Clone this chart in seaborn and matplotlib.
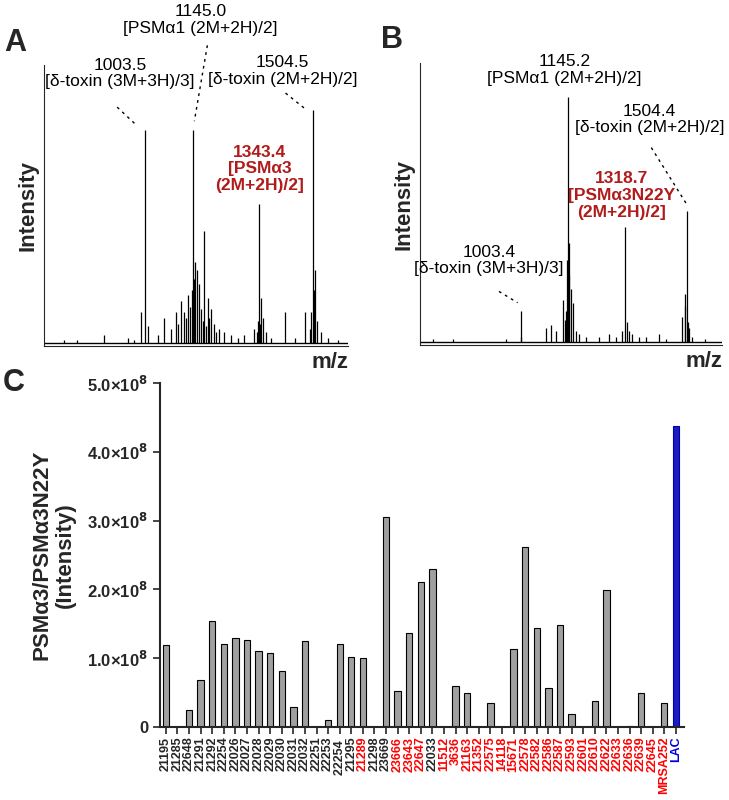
"""Figure: MALDI spectra (A, B) and PSMa3/PSMa3N22Y intensity per strain (C)"""

import matplotlib
matplotlib.use('Agg')
import matplotlib.pyplot as plt
import seaborn as sns
import pandas as pd
from matplotlib.ticker import FuncFormatter

sns.set_style('ticks')
plt.rcParams['font.family'] = ['Liberation Sans', 'DejaVu Sans']

# spectrum A peaks (m/z, relative intensity)
mz_a = [1003.5, 1145.0, 1343.4, 1504.5,
        990, 1010, 1040, 1060, 1080, 1095, 1110, 1120, 1130, 1138, 1152, 1158,
        1165, 1170, 1180, 1190, 1200, 1210, 1225, 1240, 1260, 1280, 1300, 1330,
        1337, 1350, 1355, 1365, 1380, 1420, 1450, 1480, 1495, 1510, 1518, 1530,
        1550, 1580, 880, 800, 760, 950, 970, 1100, 1125, 1142, 1148, 1175, 1185,
        1195, 1215, 1340, 1346, 1500, 1507]
int_a = [0.77, 0.77, 0.505, 0.84,
         0.12, 0.07, 0.04, 0.10, 0.06, 0.12, 0.16, 0.12, 0.18, 0.14, 0.30, 0.27,
         0.22, 0.13, 0.41, 0.17, 0.13, 0.08, 0.06, 0.05, 0.04, 0.03, 0.04, 0.06,
         0.05, 0.17, 0.10, 0.05, 0.03, 0.12, 0.03, 0.12, 0.06, 0.27, 0.09, 0.05,
         0.03, 0.02, 0.04, 0.02, 0.02, 0.03, 0.02, 0.08, 0.10, 0.20, 0.24, 0.09,
         0.07, 0.10, 0.05, 0.09, 0.08, 0.12, 0.20]

# spectrum B peaks
mz_b = [1003.4, 1145.2, 1318.7, 1504.4,
        740, 800, 960, 1005, 1080, 1095, 1110, 1130, 1136, 1140, 1150, 1155,
        1160, 1170, 1180, 1200, 1240, 1270, 1290, 1310, 1325, 1330, 1340, 1360,
        1380, 1420, 1440, 1490, 1498, 1510, 1520, 1560, 1143, 1148, 1500, 1507]
int_b = [0.12, 0.88, 0.42, 0.475,
         0.02, 0.02, 0.02, 0.03, 0.06, 0.07, 0.05, 0.16, 0.09, 0.12, 0.36, 0.20,
         0.15, 0.05, 0.04, 0.03, 0.03, 0.04, 0.03, 0.05, 0.08, 0.05, 0.04, 0.03,
         0.03, 0.04, 0.02, 0.10, 0.14, 0.06, 0.03, 0.02, 0.30, 0.25, 0.18, 0.08]

# panel C
strains = ['21195', '21285', '22648', '21291', '21292', '22254', '22026', '22027',
           '22028', '22029', '22030', '22031', '22032', '22251', '22253', '22254 ',
           '21295', '21289', '21298', '23669', '23666', '23643', '22647', '22033',
           '11512', '3636', '21163', '21352', '22575', '14118', '15671', '22578',
           '22582', '22586', '22587', '22593', '22601', '22610', '22622', '22633',
           '22636', '22639', '22645', 'MRSA252', 'LAC']
intensity = [1.19, 0, 0.25, 0.68, 1.54, 1.21, 1.29, 1.26, 1.11, 1.08, 0.81, 0.29,
             1.25, 0, 0.10, 1.21, 1.02, 1.01, 0, 3.05, 0.52, 1.37, 2.11, 2.30,
             0, 0.59, 0.50, 0, 0.35, 0, 1.13, 2.61, 1.44, 0.57, 1.48, 0.19, 0,
             0.38, 1.99, 0, 0.02, 0.49, 0, 0.35, 4.37]
red_strains = {17, 20, 21, 22} | set(range(24, 44))

fig = plt.figure(figsize=(7.29, 8), dpi=100)
W, H = 729, 800


def spectrum_axes(left, bottom_px, right, top_px):
    return fig.add_axes([left / W, 1 - bottom_px / H, (right - left) / W,
                         (bottom_px - top_px) / H])


def draw_spectrum(ax, mz, inten, letter):
    ax.vlines(mz, 0.01, inten, color='black', lw=0.9)
    ax.axhline(0.01, color='black', lw=1.0)
    ax.set_xlim(700, 1610)
    ax.set_ylim(0, 1)
    ax.set_xticks([])
    ax.set_yticks([])
    sns.despine(ax=ax, top=True, right=True)
    ax.set_ylabel('Intensity', fontsize=16, fontweight='bold', labelpad=4)
    ax.text(1.0, -0.02, 'm/z', transform=ax.transAxes, ha='right', va='top',
            fontsize=16, fontweight='bold')
    ax.text(-0.13, 1.08, letter, transform=ax.transAxes, fontsize=22,
            fontweight='bold', va='center')


def label(ax, x, y, txt, color='black', bold=False):
    ax.text(x, y, txt, ha='center', va='center', fontsize=12.5, color=color,
            fontweight='bold' if bold else 'normal', clip_on=False, linespacing=1.15)


def leader(ax, x0, y0, x1, y1):
    ax.plot([x0, x1], [y0, y1], ls=(0, (2, 3)), color='black', lw=1, clip_on=False)


ax_a = spectrum_axes(44, 346, 348, 65)
draw_spectrum(ax_a, mz_a, int_a, 'A')
label(ax_a, 928, 0.97, '1003.5\n[δ-toxin (3M+3H)/3]')
label(ax_a, 1168, 1.16, '1145.0\n[PSMα1 (2M+2H)/2]')
label(ax_a, 1414, 0.98, '1504.5\n[δ-toxin (2M+2H)/2]')
label(ax_a, 1345, 0.63, '1343.4\n[PSMα3\n(2M+2H)/2]', color='#b01c1c', bold=True)
leader(ax_a, 919, 0.85, 973, 0.79)
leader(ax_a, 1189, 1.07, 1150, 0.80)
leader(ax_a, 1423, 0.90, 1486, 0.84)

ax_b = spectrum_axes(420, 345, 722, 63)
draw_spectrum(ax_b, mz_b, int_b, 'B')
label(ax_b, 1136, 0.975, '1145.2\n[PSMα1 (2M+2H)/2]')
label(ax_b, 1391, 0.80, '1504.4\n[δ-toxin (2M+2H)/2]')
label(ax_b, 1308, 0.53, '1318.7\n[PSMα3N22Y\n(2M+2H)/2]', color='#b01c1c', bold=True)
label(ax_b, 908, 0.30, '1003.4\n[δ-toxin (3M+3H)/3]')
leader(ax_b, 938, 0.19, 994, 0.15)
leader(ax_b, 1397, 0.70, 1503, 0.50)

# panel C
ax_c = fig.add_axes([160 / W, 1 - 727 / H, (684 - 160) / W, (727 - 383) / H])
ax_c.patch.set_alpha(0)
df = pd.DataFrame({'strain': strains, 'value': [v * 1e8 for v in intensity]})
colors = ['#0000dd' if s == 'LAC' else '#a0a0a0' for s in strains]
sns.barplot(data=df, x='strain', y='value', hue='strain', palette=colors,
            legend=False, width=0.55, edgecolor='black', linewidth=0.8, ax=ax_c)
ax_c.patches[-1].set_edgecolor('#0000aa')
ax_c.set_ylim(0, 5e8)
ax_c.set_xlim(-0.5, len(strains) - 0.3)
ax_c.set_yticks([0, 1e8, 2e8, 3e8, 4e8, 5e8])
ax_c.yaxis.set_major_formatter(FuncFormatter(
    lambda v, p: '0' if v == 0 else f'{v / 1e8:.1f}×10$^{{\\mathbf{{8}}}}$'))
for t in ax_c.get_yticklabels():
    t.set_fontweight('bold')
    t.set_fontsize(12)
ax_c.set_xticks(range(len(strains)))
ax_c.set_xticklabels(strains, rotation=90, fontsize=9, fontweight='bold')
for i, t in enumerate(ax_c.get_xticklabels()):
    if strains[i] == 'LAC':
        t.set_color('#0000dd')
    elif i in red_strains:
        t.set_color('red')
ax_c.tick_params(axis='x', length=5, width=1.2, pad=2)
ax_c.tick_params(axis='y', length=5, width=1.2)
for s in ['left', 'bottom']:
    ax_c.spines[s].set_linewidth(1.5)
sns.despine(ax=ax_c)
ax_c.set_xlabel('')
ax_c.set_ylabel('PSMα3/PSMα3N22Y\n(Intensity)', fontsize=16, fontweight='bold',
                labelpad=8)
ax_c.text(-0.30, 1.0, 'C', transform=ax_c.transAxes, fontsize=22,
          fontweight='bold', va='center')

fig.savefig('out.png', dpi=100)
